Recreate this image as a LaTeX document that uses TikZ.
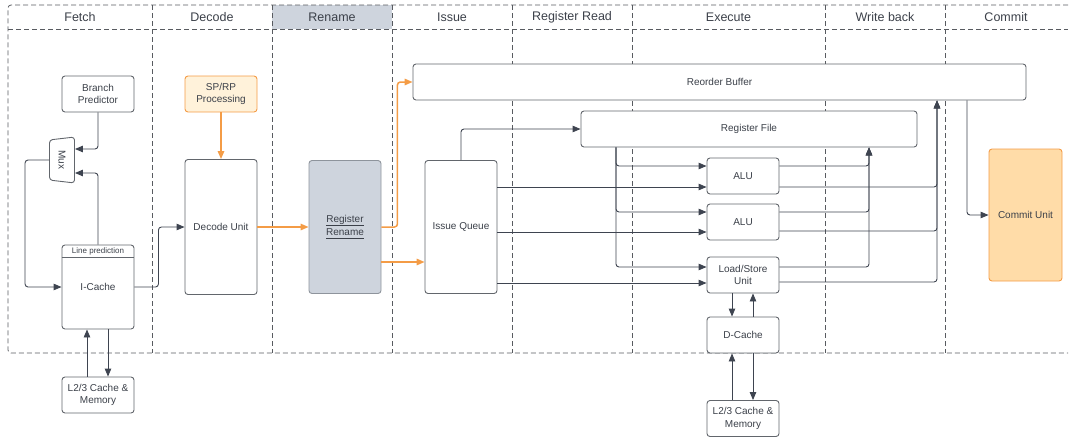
\documentclass[tikz,border=0pt]{standalone}
\usepackage{fontspec}
\setmainfont{Liberation Sans}
\usetikzlibrary{arrows.meta,shapes.geometric}
\definecolor{ink}{HTML}{3B4049}
\definecolor{boxline}{HTML}{62666C}
\definecolor{wire}{HTML}{3E4450}
\definecolor{dashc}{HTML}{585B60}
\definecolor{orng}{HTML}{F49C46}
\definecolor{spfill}{HTML}{FFF2DA}
\definecolor{cufill}{HTML}{FFDCA8}
\definecolor{renfill}{HTML}{CED4DD}
\definecolor{renline}{HTML}{8E949C}
% underline at a fixed depth below the baseline
\newcommand{\ulword}[1]{\setbox0\hbox{#1}\rlap{\rule[-3pt]{\wd0}{0.7pt}}\box0}
\tikzset{
  blk/.style={draw=boxline, line width=0.9pt, fill=white, rounded corners=3pt,
    inner sep=0pt, minimum width=72pt, minimum height=36pt, align=center,
    text=ink, font=\fontsize{10}{12.5}\selectfont},
  arr/.style={draw=wire, line width=0.9pt, rounded corners=3pt,
    -{Triangle[length=8pt,width=6.5pt]}},
  oarr/.style={arr, draw=orng, line width=1.5pt},
  sep/.style={draw=dashc, line width=0.8pt, dash pattern=on 5pt off 3pt},
  stage/.style={text=ink, font=\fontsize{12.5}{14}\selectfont},
}
\begin{document}
\begin{tikzpicture}[x=1pt,y=-1pt]
  \useasboundingbox (0,0) rectangle (1070,437);
  % pipeline frame (open on the right) and stage columns
  \fill[renfill] (272,5) rectangle (392,29);
  \draw[sep,rounded corners=3pt] (1068,5) -- (8,5) -- (8,353) -- (1068,353);
  \draw[sep] (8,29) -- (1068,29);
  \foreach \sx in {152,272,392,512,632,825,945}
    \draw[sep] (\sx,5) -- (\sx,353);
  \foreach \sx/\sname in {80/Fetch,212/Decode,332/Rename,452/Issue,
      572/Register Read,728.5/Execute,885/Write back,1006/Commit}
    \node[stage] at (\sx,17) {\sname};

  % fetch
  \node[blk] (bp) at (98,94) {Branch\\Predictor};
  \node[draw=boxline, line width=0.9pt, fill=white, rounded corners=3pt,
    trapezium, trapezium angle=101, trapezium stretches=true,
    minimum width=46pt, minimum height=25pt, inner sep=0pt, rotate=-90,
    text=ink, font=\fontsize{10}{12}\selectfont] (mux) at (62,160) {Mux};
  \node[blk, minimum height=84pt] (ic) at (98,287) {I-Cache};
  \draw[draw=boxline, line width=0.9pt] (ic.west |- 0,257) -- (ic.east |- 0,257);
  \node[text=ink, font=\fontsize{8}{9}\selectfont] (lp) at (98,251) {Line prediction};
  \node[blk] (mem1) at (98,395) {L2/3 Cache \&\\Memory};

  % decode and rename
  \node[blk, draw=orng, fill=spfill] (sp) at (221,94) {SP/RP\\Processing};
  \node[blk, minimum height=135pt] (dec) at (221,227) {Decode Unit};
  \node[blk, draw=renline, fill=renfill, minimum height=133pt] (ren) at (345,227)
    {\ulword{Register}\\\ulword{Rename}};

  % issue, register file, reorder buffer
  \node[blk, minimum height=133pt] (iq) at (461,227) {Issue Queue};
  \node[blk, minimum width=613pt] (rob) at (719.5,82) {Reorder Buffer};
  \node[blk, minimum width=336pt] (rf) at (749,129) {Register File};

  % execute units and data memory
  \node[blk] (alu1) at (743,176) {ALU};
  \node[blk] (alu2) at (743,222) {ALU};
  \node[blk] (lsu) at (743,275) {Load/Store\\Unit};
  \node[blk] (dc) at (743,335) {D-Cache};
  \node[blk] (mem2) at (743,418.5) {L2/3 Cache \&\\Memory};

  % commit
  \node[blk, draw=orng, fill=cufill, minimum width=73pt, minimum height=132pt]
    (cu) at (1025.5,215) {Commit Unit};

  % fetch loop
  \draw[arr] (bp.south) |- (mux.north |- 0,149);
  \draw[arr] (ic.north) |- (mux.north |- 0,173);
  \draw[arr] (mux.south) -- ++(-24,0) |- (ic.west);
  \draw[arr] ([xshift=-11pt]mem1.north) -- ([xshift=-11pt]ic.south);
  \draw[arr] ([xshift=10pt]ic.south) -- ([xshift=10pt]mem1.north);
  \draw[arr] (ic.east) -- ++(24,0) |- (dec.west);

  % orange path through decode and rename
  \draw[oarr] (sp.south) -- (dec.north);
  \draw[oarr] (dec.east) -- (ren.west);
  \draw[oarr] (ren.east) -- ++(16,0) |- (rob.west);
  \draw[oarr] (ren.east |- 0,262) -- (iq.west |- 0,262);

  % operands
  \draw[arr] (iq.north) |- (rf.west);
  \foreach \u/\ry/\qy in {alu1/166/187,alu2/212/232,lsu/267/283} {
    \draw[arr] (rf.south -| 616,0) |- (\u.west |- 0,\ry);
    \draw[arr] (iq.east |- 0,\qy) -- (\u.west |- 0,\qy);
  }

  % results to register file and reorder buffer
  \foreach \u/\wy/\by in {alu1/166/187,alu2/212/231,lsu/267/282} {
    \draw[arr] (\u.east |- 0,\wy) -| (rf.south -| 869,0);
    \draw[arr] (\u.east |- 0,\by) -| (rob.south -| 937,0);
  }
  \draw[arr] (rob.south -| 967,0) |- (cu.west);

  % data cache traffic
  \draw[arr] ([xshift=-11pt]lsu.south) -- ([xshift=-11pt]dc.north);
  \draw[arr] ([xshift=10pt]dc.north) -- ([xshift=10pt]lsu.south);
  \draw[arr] ([xshift=-11pt]mem2.north) -- ([xshift=-11pt]dc.south);
  \draw[arr] ([xshift=10pt]dc.south) -- ([xshift=10pt]mem2.north);
\end{tikzpicture}
\end{document}
